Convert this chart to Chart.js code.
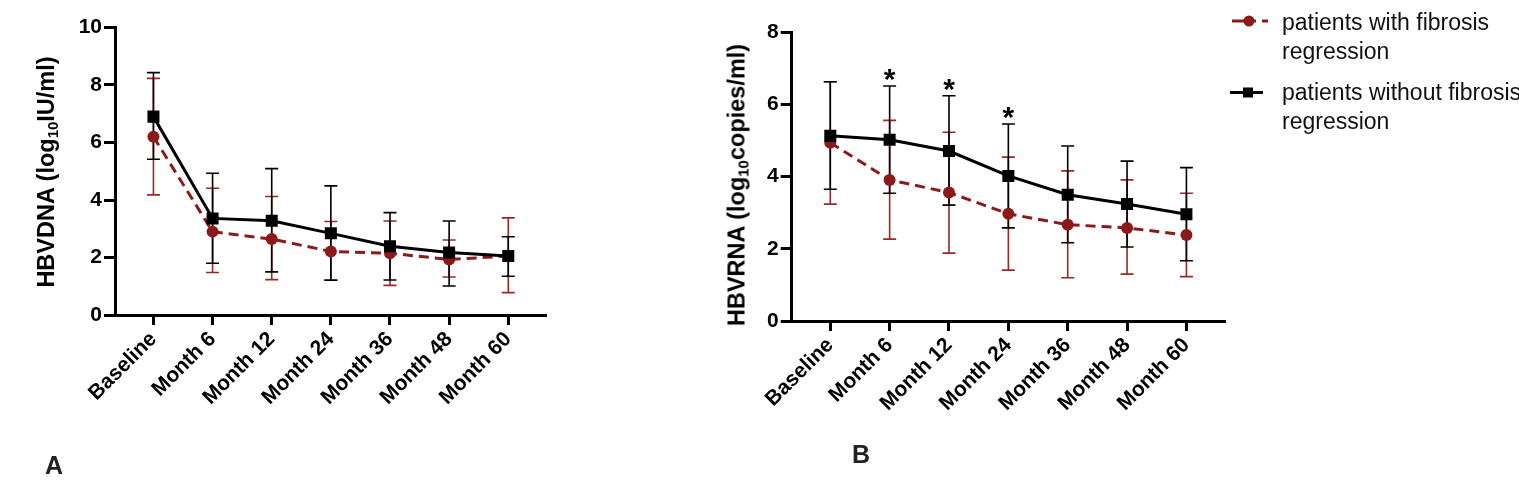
<!DOCTYPE html>
<html>
<head>
<meta charset="utf-8">
<script src="https://cdn.jsdelivr.net/npm/chart.js@4.4.0/dist/chart.umd.min.js"></script>
<style>
  body { margin: 0; width: 1519px; height: 485px; background: #fff; position: relative; overflow: hidden;
         font-family: "Liberation Sans", Arial, Helvetica, sans-serif; }
  canvas { position: absolute; top: 0; }
  #chartA { left: 0; }
  #chartB { left: 680px; }
  .ytitle { position: absolute; font-weight: bold; font-size: 23.5px; color: #000; white-space: nowrap;
            transform: translate(-50%, -50%) rotate(-90deg); }
  .ytitle sub { font-size: 15px; vertical-align: -4px; line-height: 0; }
  .panel { position: absolute; font-weight: bold; font-size: 25px; color: #222; }
  .legtext { position: absolute; left: 1282px; font-size: 23px; line-height: 29px; color: #111; white-space: nowrap; }
  #legicons { position: absolute; left: 0; top: 0; }
</style>
</head>
<body>
<canvas id="chartA" width="580" height="485"></canvas>
<canvas id="chartB" width="560" height="485"></canvas>

<div class="ytitle" style="left:46px; top:172px;">HBVDNA (log<sub>10</sub>IU/ml)</div>
<div class="ytitle" style="left:737px; top:185px;">HBVRNA (log<sub>10</sub>copies/ml)</div>

<div class="panel" style="left:45px; top:451px;">A</div>
<div class="panel" style="left:852px; top:440px;">B</div>

<svg id="legicons" width="1519" height="140">
  <line x1="1232" y1="21" x2="1256" y2="21" stroke="#8b1a1a" stroke-width="3"/>
  <circle cx="1249" cy="21" r="5.5" fill="#8b1a1a"/>
  <line x1="1262" y1="21" x2="1268" y2="21" stroke="#8b1a1a" stroke-width="3"/>
  <line x1="1230" y1="92.5" x2="1263" y2="92.5" stroke="#000" stroke-width="3"/>
  <rect x="1243" y="87.5" width="10" height="10" fill="#000"/>
</svg>
<div class="legtext" style="top:8px;">patients with fibrosis<br>regression</div>
<div class="legtext" style="top:78px;">patients without fibrosis<br>regression</div>

<script>
const timeLabels = ['Baseline', 'Month 6', 'Month 12', 'Month 24', 'Month 36', 'Month 48', 'Month 60'];

// Panel A - HBV DNA (log10 IU/ml)
const dnaWith        = [6.20, 2.90, 2.64, 2.21, 2.15, 1.93, 2.05];
const dnaWithLow     = [4.18, 1.48, 1.23, 1.22, 1.03, 1.32, 0.78];
const dnaWithHigh    = [8.23, 4.41, 4.12, 3.25, 3.27, 2.61, 3.38];
const dnaWithout     = [6.90, 3.36, 3.28, 2.84, 2.39, 2.17, 2.05];
const dnaWithoutLow  = [5.42, 1.80, 1.50, 1.21, 1.22, 1.01, 1.35];
const dnaWithoutHigh = [8.43, 4.93, 5.09, 4.49, 3.56, 3.27, 2.72];

// Panel B - HBV RNA (log10 copies/ml)
const rnaWith        = [4.94, 3.91, 3.56, 2.97, 2.67, 2.58, 2.38];
const rnaWithLow     = [3.24, 2.27, 1.88, 1.41, 1.20, 1.30, 1.23];
const rnaWithHigh    = [6.63, 5.56, 5.23, 4.54, 4.16, 3.91, 3.54];
const rnaWithout     = [5.13, 5.02, 4.71, 4.02, 3.50, 3.24, 2.96];
const rnaWithoutLow  = [3.65, 3.54, 3.21, 2.58, 2.17, 2.05, 1.67];
const rnaWithoutHigh = [6.63, 6.51, 6.24, 5.46, 4.85, 4.43, 4.25];
const rnaSignif      = ['', '*', '*', '*', '', '', ''];

const RED = '#8b1a1a';
const RED_BAR = '#9a2828';

function toPoints(vals) {
  return vals.map((v, i) => ({ x: i, y: v }));
}

// error bars (mean +/- SD) and significance stars, drawn via the chart scales
const errorBars = {
  id: 'errorBars',
  beforeDatasetsDraw(chart) {
    const ctx = chart.ctx;
    const xs = chart.scales.x, ys = chart.scales.y;
    ctx.save();
    chart.data.datasets.forEach(ds => {
      ctx.strokeStyle = ds.barColor;
      ctx.lineWidth = 1.6;
      ds.errLow.forEach((lo, i) => {
        const x = xs.getPixelForValue(i);
        const yLo = ys.getPixelForValue(lo);
        const yHi = ys.getPixelForValue(ds.errHigh[i]);
        ctx.beginPath();
        ctx.moveTo(x, yLo); ctx.lineTo(x, yHi);
        ctx.moveTo(x - 6.5, yLo); ctx.lineTo(x + 6.5, yLo);
        ctx.moveTo(x - 6.5, yHi); ctx.lineTo(x + 6.5, yHi);
        ctx.stroke();
      });
    });
    ctx.restore();
  },
  afterDatasetsDraw(chart) {
    const sig = chart.options.plugins.errorBars.signif;
    if (!sig) return;
    const ctx = chart.ctx;
    const xs = chart.scales.x, ys = chart.scales.y;
    const highs = chart.options.plugins.errorBars.signifTop;
    ctx.save();
    ctx.font = 'bold 30px "Liberation Sans", Arial, sans-serif';
    ctx.fillStyle = '#000';
    ctx.textAlign = 'center';
    ctx.textBaseline = 'alphabetic';
    sig.forEach((s, i) => {
      if (!s) return;
      ctx.fillText(s, xs.getPixelForValue(i), ys.getPixelForValue(highs[i]) + 3);
    });
    ctx.restore();
  }
};

function makePanel(id, cfg) {
  const tickFont = { family: '"Liberation Sans", Arial, sans-serif', size: 21, weight: 'bold' };
  return new Chart(document.getElementById(id), {
    type: 'line',
    data: {
      datasets: [
        {
          label: 'patients with fibrosis regression',
          data: toPoints(cfg.withVals),
          errLow: cfg.withLow,
          errHigh: cfg.withHigh,
          barColor: RED_BAR,
          borderColor: RED,
          backgroundColor: RED,
          borderWidth: 3,
          borderDash: [10, 6],
          pointStyle: 'circle',
          pointRadius: 6,
          pointBorderWidth: 0,
          pointBackgroundColor: RED,
          tension: 0,
          order: 1
        },
        {
          label: 'patients without fibrosis regression',
          data: toPoints(cfg.withoutVals),
          errLow: cfg.withoutLow,
          errHigh: cfg.withoutHigh,
          barColor: '#000',
          borderColor: '#000',
          backgroundColor: '#000',
          borderWidth: 3,
          pointStyle: 'rect',
          pointRadius: 8.5,
          pointBorderWidth: 0,
          pointBackgroundColor: '#000',
          tension: 0,
          order: 0
        }
      ]
    },
    options: {
      responsive: false,
      animation: false,
      layout: { padding: { top: cfg.padTop, right: cfg.padRight, left: 0, bottom: 0 } },
      plugins: {
        legend: { display: false },
        tooltip: { enabled: false },
        errorBars: { signif: cfg.signif, signifTop: cfg.withoutHigh }
      },
      scales: {
        x: {
          type: 'linear',
          min: -0.65,
          max: 6.65,
          afterBuildTicks: axis => { axis.ticks = timeLabels.map((_, i) => ({ value: i })); },
          afterFit: axis => { axis.height = cfg.xHeight; },
          ticks: {
            callback: v => timeLabels[v],
            autoSkip: false,
            maxRotation: 45,
            minRotation: 45,
            font: tickFont,
            color: '#000',
            padding: 2
          },
          grid: { drawOnChartArea: false, tickLength: 10, tickWidth: 3, tickColor: '#000' },
          border: { width: 3, color: '#000' }
        },
        y: {
          min: 0,
          max: cfg.yMax,
          afterFit: axis => { axis.width = cfg.yWidth; },
          ticks: { stepSize: 2, font: tickFont, color: '#000', padding: 2 },
          grid: { drawOnChartArea: false, tickLength: 11, tickWidth: 3, tickColor: '#000' },
          border: { width: 3, color: '#000' }
        }
      }
    },
    plugins: [errorBars]
  });
}

makePanel('chartA', {
  withVals: dnaWith, withLow: dnaWithLow, withHigh: dnaWithHigh,
  withoutVals: dnaWithout, withoutLow: dnaWithoutLow, withoutHigh: dnaWithoutHigh,
  yMax: 10, yWidth: 115, xHeight: 170, padTop: 27.5, padRight: 33.3, signif: null
});

makePanel('chartB', {
  withVals: rnaWith, withLow: rnaWithLow, withHigh: rnaWithHigh,
  withoutVals: rnaWithout, withoutLow: rnaWithoutLow, withoutHigh: rnaWithoutHigh,
  yMax: 8, yWidth: 111.7, xHeight: 164, padTop: 32.3, padRight: 15, signif: rnaSignif
});
</script>
</body>
</html>
